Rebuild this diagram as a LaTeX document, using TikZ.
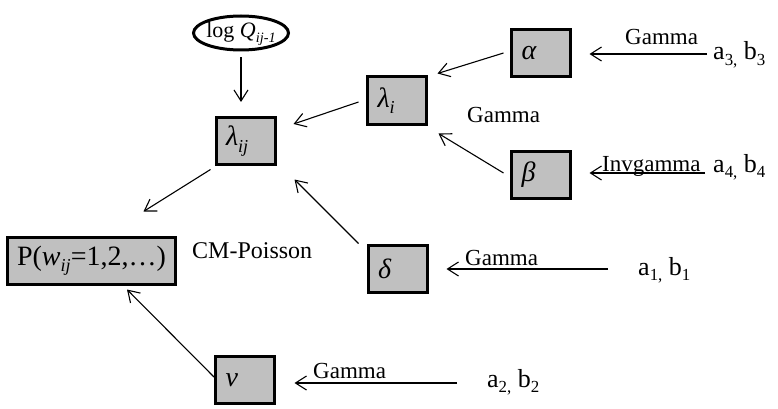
\documentclass[tikz,border=0pt]{standalone}
\usepackage{fontspec}
\setmainfont{Liberation Serif}
\usepackage{graphicx}
\usetikzlibrary{arrows.meta,calc,shapes.geometric}
\definecolor{boxgray}{HTML}{C0C0C0}
\newcommand\lsub[1]{\raisebox{-0.22em}{\scalebox{0.65}{#1}}}
\begin{document}
\begin{tikzpicture}[x=1pt,y=-1pt,
  varbox/.style={draw, line width=3pt, fill=boxgray, minimum width=59pt, minimum height=47pt,
    inner xsep=10pt, text width=39pt, align=left, font=\fontsize{28}{30}\selectfont\itshape},
  arr/.style={-{Straight Barb[length=11pt,width=14pt]}, line width=1.1pt},
  lbl/.style={anchor=base west, inner sep=0pt, font=\fontsize{23}{25}\selectfont},
  parm/.style={anchor=base west, inner sep=0pt, font=\fontsize{26}{28}\selectfont}]
\useasboundingbox (0,0) rectangle (778,409);

% variable boxes
\node[varbox] (al)  at (541,53)     {α};
\node[varbox] (be)  at (541,175)    {β};
\node[varbox] (li)  at (397,100.5)  {λ\lsub{i}};
\node[varbox] (lij) at (245.5,141)  {λ\lsub{ij}};
\node[varbox] (de)  at (397.5,268.5){δ};
\node[varbox] (nu)  at (245,380)    {ν};
\node[draw, line width=3pt, fill=boxgray, minimum width=168pt, minimum height=47pt, inner sep=0pt,
      font=\fontsize{28}{30}\selectfont] (P) at (91.5,261) {P(\textit{w}\lsub{\textit{ij}}=1,2,…)};
\node[ellipse, draw, line width=3pt, fill=white, minimum width=95pt, minimum height=34pt, inner sep=0pt,
      font=\fontsize{22}{24}\selectfont] (Q) at (241,33)
      {\makebox[40pt]{\raisebox{0pt}[12pt][2pt]{log \textit{Q}\lsub{\textit{ij-1}}}}};

% labels
\node[lbl] (g3) at (625,45)  {Gamma};
\node[lbl] (g4) at (602,171) {Invgamma};
\node[lbl] (g1) at (465,265) {Gamma};
\node[lbl] (g2) at (313,378) {Gamma};
\node[lbl] (gm) at (467,122) {Gamma};
\node[lbl, font=\fontsize{24}{26}\selectfont] (cm) at (192,258) {CM-Poisson};

% hyperparameters
\node[parm] (p3) at (713,60)  {a\lsub{3,} b\lsub{3}};
\node[parm] (p4) at (713,172) {a\lsub{4,} b\lsub{4}};
\node[parm] (p1) at (638,275) {a\lsub{1,} b\lsub{1}};
\node[parm] (p2) at (487,387) {a\lsub{2,} b\lsub{2}};

% connectors
\draw[arr, shorten <=6pt] (Q.south) -- ($(Q.south |- lij.north)+(0,-14)$);
\draw[arr] ($(al.west)+(-6.5,0)$) -- ($(li.north east)+(9.5,-2)$);
\draw[arr] ($(be.west)+(-6.5,-2)$) -- ($(li.south east)+(10.5,8)$);
\draw[arr] ($(li.west)+(-7.5,1.5)$) -- ($(lij.east)+(17,-17)$);
\draw[arr] ($(de.north west)+(-8,0)$) -- ($(lij.south east)+(18,13.5)$);
\draw[arr] ($(lij.south west)+(-4,3.5)$) -- ($(P.north east)+(-33.5,-24.5)$);
\draw[arr] ($(nu.west)+(0,-3)$) -- ($(P.south)+(35.5,3.5)$);

\draw[arr] ($(p3.base west)+(-6,-6)$) -- ($(al.east |- p3.base west)+(17.5,-6)$);
\draw[arr] ($(p4.base west)+(-8,1)$) -- ($(be.east |- p4.base west)+(17.5,1)$);
\draw[arr] ($(p1.base west)+(-30,-6)$) -- ($(de.east |- p1.base west)+(18,-6)$);
\draw[arr] ($(p2.base west)+(-30,-4)$) -- ($(nu.east |- p2.base west)+(18.5,-4)$);
\end{tikzpicture}
\end{document}
